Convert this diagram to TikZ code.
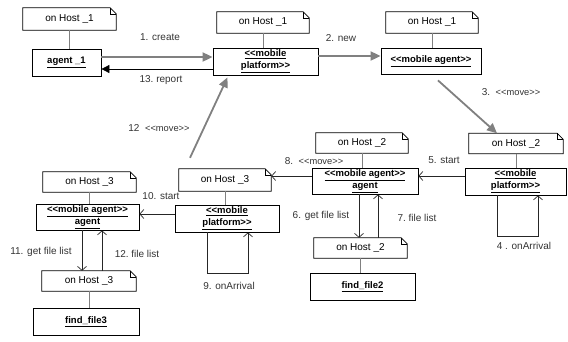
\documentclass[tikz,border=0pt]{standalone}
\usepackage{fontspec}
\setmainfont{Liberation Sans}
\usetikzlibrary{arrows.meta,calc}
\definecolor{ga}{RGB}{128,128,128}
\newcommand\stL{<\kern0pt<}
\newcommand\stR{>\kern0pt>}
\newcommand\movetag{{\fontsize{9.3}{11}\selectfont\stL move\stR}}
\begin{document}
\begin{tikzpicture}[x=1pt,y=-1pt,
  box/.style={draw=black,line width=0.8pt,inner sep=0pt,align=center,font=\fontsize{9.5}{12}\selectfont\bfseries},
  note/.style={inner sep=0pt,font=\fontsize{10}{12}\selectfont},
  noteline/.style={draw=black,line width=0.8pt},
  tie/.style={draw=gray,line width=0.8pt},
  garrow/.style={draw=ga,line width=1.8pt,-{Triangle[length=10pt,width=9pt]}},
  barrow/.style={draw=black,line width=0.8pt,-{Triangle[length=8pt,width=8pt]}},
  oarrow/.style={draw=black!85,line width=0.7pt,-{Straight Barb[length=4pt,width=9pt]}},
  lbl/.style={font=\fontsize{10}{12}\selectfont,text=black!80,inner sep=0pt}
]
\path[use as bounding box] (0,0) rectangle (568,341);

% notes
\node[note,minimum width=93pt,minimum height=22pt] (h1a) at (69.5,19) {on Host \_1};
\node[note,minimum width=92pt,minimum height=21pt] (h1b) at (263,22.5) {on Host \_1};
\node[note,minimum width=92pt,minimum height=21pt] (h1c) at (432,22.5) {on Host \_1};
\node[note,minimum width=94pt,minimum height=20pt] (h2r) at (516,143.5) {on Host \_2};
\node[note,minimum width=92pt,minimum height=20pt] (h2m) at (362,143) {on Host \_2};
\node[note,minimum width=93pt,minimum height=20pt] (h2l) at (360.5,248) {on Host \_2};
\node[note,minimum width=92pt,minimum height=22pt] (h3m) at (225,180) {on Host \_3};
\node[note,minimum width=93pt,minimum height=20pt] (h3a) at (89.5,182) {on Host \_3};
\node[note,minimum width=94pt,minimum height=20pt] (h3l) at (89,281) {on Host \_3};

\foreach \n in {h1a,h1b,h1c,h2r,h2m,h2l,h3m,h3a,h3l}{
  \draw[noteline] (\n.south west) -- (\n.north west) -- ([xshift=-6pt]\n.north east)
    -- ([yshift=-6pt]\n.north east) -- (\n.south east) -- cycle;
  \draw[line width=0.6pt] ([xshift=-6pt]\n.north east) -- ([xshift=-6pt,yshift=-6pt]\n.north east)
    -- ([yshift=-6pt]\n.north east);
}

% boxes
\node[box,minimum width=69pt,minimum height=27pt] (a1) at (66.5,62.5) {\underline{agent \_1}};
\node[box,minimum width=105pt,minimum height=27pt] (p1) at (265.5,61.5) {\underline{\stL mobile}\\\underline{platform\stR}};
\node[box,minimum width=100pt,minimum height=26pt] (ma1) at (431,61) {\underline{\stL mobile agent\stR}};
\node[box,minimum width=101pt,minimum height=27pt] (p2) at (515.5,181.5) {\underline{\stL mobile}\\\underline{platform\stR}};
\node[box,minimum width=106pt,minimum height=26pt] (ag2) at (365,181) {\underline{\stL mobile agent\stR}\\\underline{agent}};
\node[box,minimum width=105pt,minimum height=27pt] (ff2) at (362.5,286.5) {\underline{find\_file2}};
\node[box,minimum width=104pt,minimum height=27pt] (p3) at (227,218.5) {\underline{\stL mobile}\\\underline{platform\stR}};
\node[box,minimum width=103pt,minimum height=26pt] (ag3) at (87.5,217) {\underline{\stL mobile agent\stR}\\\underline{agent}};
\node[box,minimum width=106pt,minimum height=27pt] (ff3) at (86,321.5) {\underline{find\_file3}};

% ties
\foreach \n/\b in {h1a/a1,h1b/p1,h1c/ma1,h2r/p2,h2m/ag2,h2l/ff2,h3m/p3,h3a/ag3,h3l/ff3}{
  \draw[tie] (\n.south) -- (\n.south |- \b.north);
}

% messages
\coordinate (c1) at ($(a1.east)+(0,-5.5)$);
\draw[garrow] (c1) -- (c1 -| p1.west);
\coordinate (c13) at ($(a1.east)+(0,6.5)$);
\draw[barrow] (c13 -| p1.west) -- (c13);
\coordinate (c2) at ($(p1.east)+(0,-5.5)$);
\draw[garrow] (c2) -- (c2 -| ma1.west);
\draw[garrow] ($(ma1.south)+(7,6)$) -- ($(h2r.north)+(-19,0)$);
\draw[oarrow] ($(p2.south)+(-18.5,0)$) -- ++(0,41) -| ($(p2.south)+(22.5,0)$);
\coordinate (c5) at ($(p2.west)+(0,-5.5)$);
\draw[oarrow] (c5) -- (c5 -| ag2.east);
\coordinate (c6) at ($(ag2.south)+(-6,0)$);
\draw[oarrow] (c6) -- (c6 |- h2l.north);
\coordinate (c7) at ($(ag2.south)+(13,0)$);
\draw[oarrow] (c7 |- h2l.north) -- (c7);
\coordinate (c8) at ($(ag2.west)+(0,-5)$);
\draw[oarrow] (c8) -- (c8 -| h3m.east);
\draw[oarrow] ($(p3.south)+(-20,0)$) -- ++(0,41) -| ($(p3.south)+(21,0)$);
\coordinate (c10) at ($(p3.west)+(0,-4.5)$);
\draw[oarrow] (c10) -- (c10 -| ag3.east);
\coordinate (c11) at ($(ag3.south)+(-5.5,0)$);
\draw[oarrow] (c11) -- (c11 |- h3l.north);
\coordinate (c12) at ($(ag3.south)+(14.5,0)$);
\draw[oarrow] (c12 |- h3l.north) -- (c12);
\draw[garrow] ($(h3m.north)+(-35,-11)$) -- ($(p1.south)+(-38,2)$);

% labels
\node[lbl] (l1) at (160,37) {1. create};
\node[lbl] (l13) at (161,80) {13.\ report};
\node[lbl] (l2) at (341,38) {2. new};
\node[lbl] (l3) at (511,92) {3.\ \ \movetag};
\node[lbl] (l4) at (524,246) {4 . onArrival};
\node[lbl] (l5) at (444,160) {5. start};
\node[lbl] (l6) at (321,216) {6. get file list};
\node[lbl] (l7) at (417,218) {7.\ file list};
\node[lbl] (l8) at (314,161) {8.\ \ \movetag};
\node[lbl] (l9) at (229,286) {9. onArrival};
\node[lbl] (l10) at (161,196) {10. start};
\node[lbl] (l11) at (41,252) {11. get file list};
\node[lbl] (l12) at (137,254) {12.\ file list};
\node[lbl] (l12m) at (159,128) {12\ \ \movetag};
\end{tikzpicture}
\end{document}
